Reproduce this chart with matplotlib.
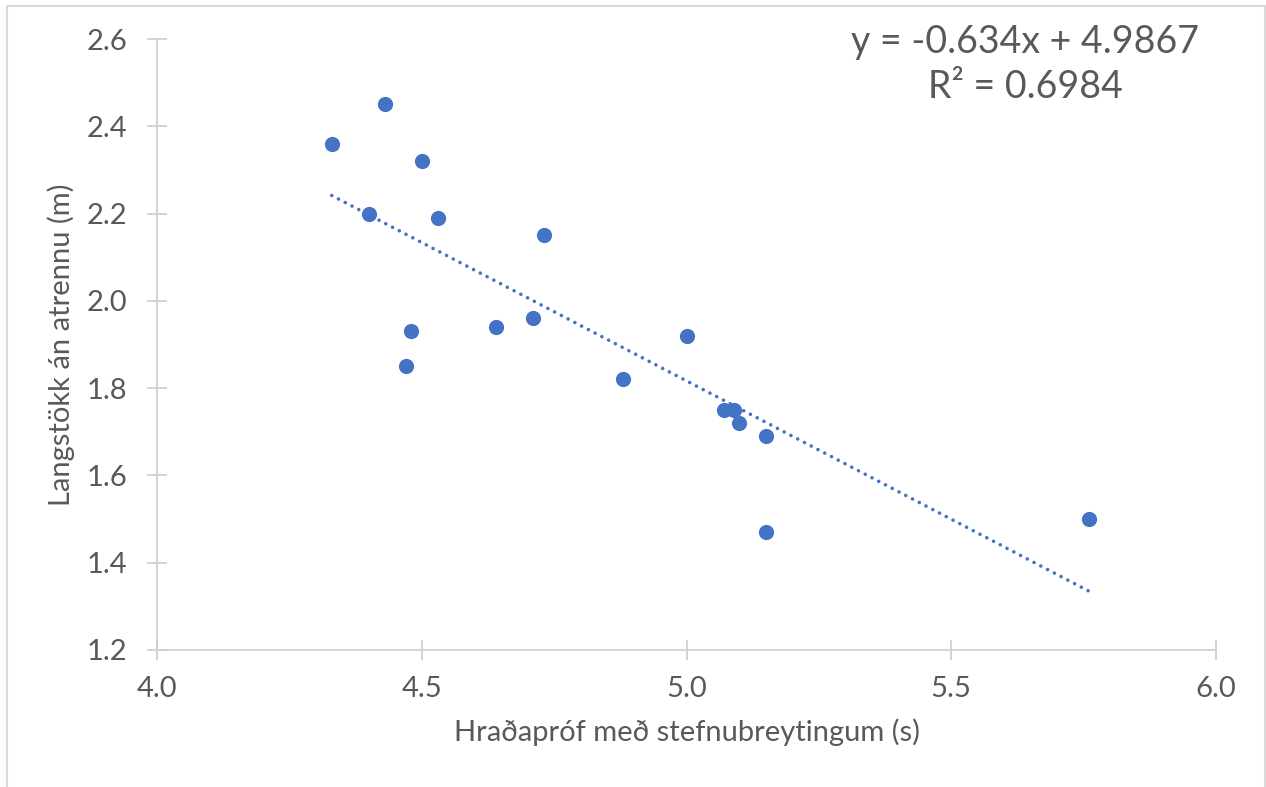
import matplotlib.pyplot as plt
from matplotlib.patches import Rectangle
import numpy as np

# gogn lesin af myndinni
hradaprof = [4.33, 4.43, 4.50, 4.40, 4.53, 4.73, 4.48, 4.47, 4.64, 4.71,
             5.00, 4.88, 5.07, 5.09, 5.10, 5.15, 5.15, 5.76]
langstokk = [2.36, 2.45, 2.32, 2.20, 2.19, 2.15, 1.93, 1.85, 1.94, 1.96,
             1.92, 1.82, 1.75, 1.75, 1.72, 1.69, 1.47, 1.50]
halli = -0.634
skurdpunktur = 4.9867
r2 = 0.6984

xticks = [4.0, 4.5, 5.0, 5.5, 6.0]
yticks = [1.2, 1.4, 1.6, 1.8, 2.0, 2.2, 2.4, 2.6]

blar = '#4472C4'
grar_texti = '#595959'
grar_lina = '#D0D0D0'

plt.rcParams['font.family'] = ['Lato', 'DejaVu Sans']

fig = plt.figure(figsize=(12.66, 7.87), dpi=100)
ax = fig.add_axes([157/1266, 1 - 650/787, (1216-157)/1266, (650-39)/787])

# rammi utan um alla myndina
fig.patches.append(Rectangle((7/1266, -0.05), (1265-7)/1266, 1.05 - 6/787,
                             transform=fig.transFigure, fill=False,
                             edgecolor='#D9D9D9', linewidth=1.5))

# punktarnir
ax.scatter(hradaprof, langstokk, s=120, color=blar, zorder=3, linewidths=0)

# leitnilina
xl = np.array([min(hradaprof), max(hradaprof)])
ax.plot(xl, halli * xl + skurdpunktur, color=blar, linewidth=2.6,
        linestyle=(0, (0.01, 2.1)), dash_capstyle='round', zorder=2)

ax.text(0.82, 1.025, f'y = {halli}x + {skurdpunktur}\nR² = {r2}',
        transform=ax.transAxes, ha='center', va='top', fontsize=27,
        color=grar_texti, linespacing=1.33)

ax.set_xlim(4.0, 6.0)
ax.set_ylim(1.2, 2.6)
ax.set_xticks(xticks)
ax.set_yticks(yticks)
ax.set_xticklabels([f'{t:.1f}' for t in xticks])
ax.set_yticklabels([f'{t:.1f}' for t in yticks])

for s in ['top', 'right']:
    ax.spines[s].set_visible(False)
for s in ['left', 'bottom']:
    ax.spines[s].set_color(grar_lina)
    ax.spines[s].set_linewidth(1.3)

ax.tick_params(axis='both', direction='inout', length=15, width=1.3,
               color=grar_lina, labelcolor=grar_texti, labelsize=21)
ax.tick_params(axis='x', pad=11)
ax.tick_params(axis='y', pad=14)

ax.set_xlabel('Hraðapróf með stefnubreytingum (s)', fontsize=21,
              color=grar_texti, labelpad=12)
ax.set_ylabel('Langstökk án atrennu (m)', fontsize=21,
              color=grar_texti, labelpad=8)

fig.savefig('out.png', dpi=100)
